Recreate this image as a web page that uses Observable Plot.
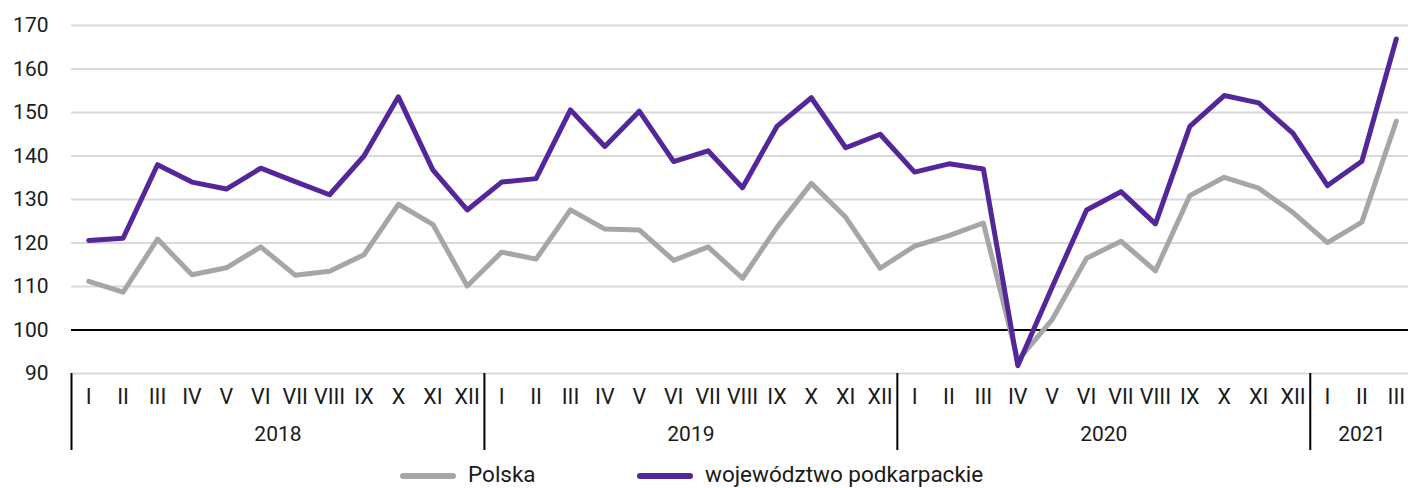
<!DOCTYPE html>
<html>
<head>
<meta charset="utf-8">
<script src="https://cdn.jsdelivr.net/npm/d3@7"></script>
<script src="https://cdn.jsdelivr.net/npm/@observablehq/plot@0.6"></script>
<style>
  html, body { margin: 0; padding: 0; background: #fff; overflow: hidden; }
  #chart { width: 1408px; height: 458px; }
  #legend { position: relative; width: 1408px; height: 30px; font-family: Roboto, sans-serif; font-size: 22.5px; color: #1a1a1a; }
  .item { position: absolute; top: -4px; height: 40px; line-height: 26px; display: flex; align-items: center; }
  .sw { width: 56px; height: 6px; border-radius: 3px; margin-right: 12px; margin-top: 3px; }
</style>
</head>
<body>
<div id="chart"></div>
<div id="legend"></div>
<script>
const months = ["I","II","III","IV","V","VI","VII","VIII","IX","X","XI","XII"];
const years = ["2018","2019","2020","2021"];
const monthsPerYear = [12, 12, 12, 3];
const yTicks = [90, 100, 110, 120, 130, 140, 150, 160, 170];
const seriesNames = ["Polska", "województwo podkarpackie"];
const seriesColors = ["#a6a6a6", "#53269a"];

const polska = [
  111.2, 108.7, 120.9, 112.7, 114.3, 119.1, 112.6, 113.5, 117.3, 128.9, 124.3, 110.1,
  117.9, 116.3, 127.6, 123.2, 123.0, 116.0, 119.1, 111.9, 123.6, 133.7, 125.9, 114.2,
  119.3, 121.7, 124.6, 93.0, 102.4, 116.5, 120.4, 113.6, 130.9, 135.1, 132.6, 127.0,
  120.1, 124.8, 148.0
];
const podkarpackie = [
  120.6, 121.1, 138.0, 134.0, 132.4, 137.2, 134.1, 131.1, 140.0, 153.6, 136.8, 127.6,
  134.0, 134.8, 150.6, 142.2, 150.3, 138.7, 141.2, 132.7, 146.8, 153.4, 141.9, 145.0,
  136.3, 138.2, 137.0, 91.8, 109.9, 127.6, 131.8, 124.4, 146.8, 153.9, 152.2, 145.2,
  133.2, 138.8, 166.9
];

const rows = [];
let k = 0;
const yearStarts = [];
years.forEach((yr, yi) => {
  yearStarts.push(k);
  for (let m = 0; m < monthsPerYear[yi]; m++) {
    rows.push({i: k, month: months[m], year: yr, polska: polska[k], podk: podkarpackie[k]});
    k++;
  }
});
const n = rows.length;
const separators = yearStarts.map(s => s - 0.5);
const yearCenters = yearStarts.map((s, yi) => s + (monthsPerYear[yi] - 1) / 2);

const plot = Plot.plot({
  width: 1408,
  height: 458,
  marginLeft: 71,
  marginRight: -5,
  marginTop: 25,
  marginBottom: 85,
  style: {fontFamily: "Roboto, sans-serif", fontSize: "21px", color: "#1a1a1a", background: "#fff", overflow: "hidden"},
  x: {type: "linear", domain: [-0.5, n - 0.5], axis: null, label: null},
  y: {domain: [90, 170], axis: null, label: null},
  marks: [
    Plot.ruleY(yTicks.filter(d => d !== 100), {stroke: "#d9d9d9", strokeWidth: 2}),
    Plot.ruleY([100], {stroke: "#000", strokeWidth: 2}),
    Plot.axisY(yTicks, {tickSize: 0, tickPadding: 23, fontSize: 21, fill: "#1a1a1a", label: null}),
    Plot.axisX(rows.map(r => r.i), {tickSize: 0, tickPadding: 15, fontSize: 21.5, fill: "#1a1a1a", label: null,
      tickFormat: i => rows[i].month}),
    Plot.axisX(separators, {tickSize: 77, text: null, stroke: "#000", strokeWidth: 2, label: null}),
    Plot.axisX(yearCenters, {tickSize: 0, tickPadding: 53, fontSize: 21, fill: "#1a1a1a", label: null,
      tickFormat: d => years[yearCenters.indexOf(d)]}),
    Plot.line(rows, {x: "i", y: "polska", stroke: seriesColors[0], strokeWidth: 5,
      strokeLinejoin: "round", strokeLinecap: "round"}),
    Plot.line(rows, {x: "i", y: "podk", stroke: seriesColors[1], strokeWidth: 5,
      strokeLinejoin: "round", strokeLinecap: "round"})
  ]
});
document.getElementById("chart").appendChild(plot);

const legend = document.getElementById("legend");
const lefts = [400, 637];
seriesNames.forEach((name, j) => {
  const it = document.createElement("div");
  it.className = "item";
  it.style.left = lefts[j] + "px";
  it.innerHTML = `<span class="sw" style="background:${seriesColors[j]}"></span><span>${name}</span>`;
  legend.appendChild(it);
});
</script>
</body>
</html>
